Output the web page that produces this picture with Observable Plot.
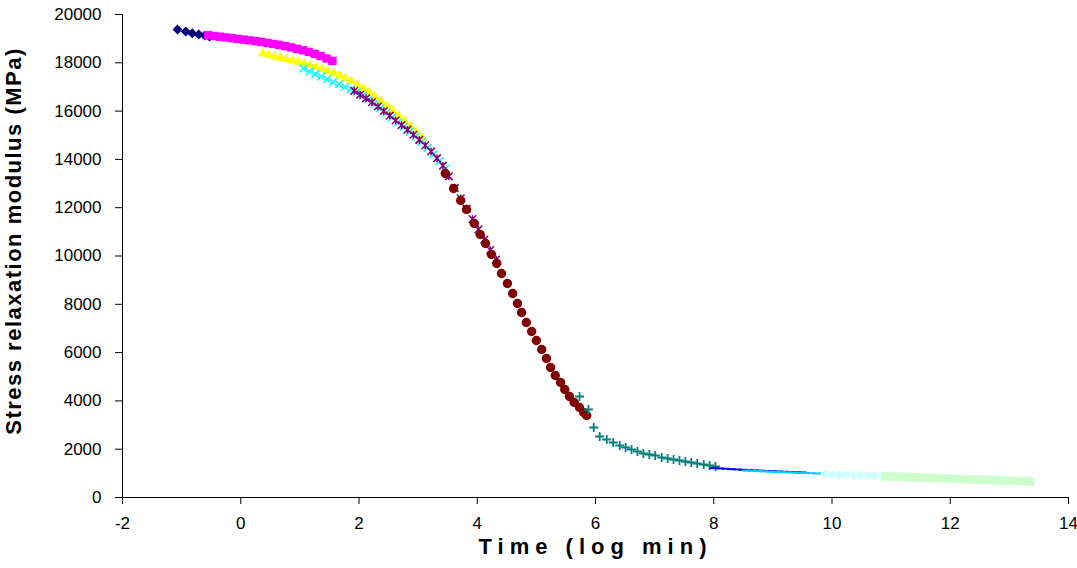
<!DOCTYPE html>
<html><head><meta charset="utf-8">
<script src="https://cdn.jsdelivr.net/npm/d3@7"></script>
<script src="https://cdn.jsdelivr.net/npm/@observablehq/plot@0.6"></script>
<style>
body{margin:0;background:#fff;}
#chart svg{font-family:"Liberation Sans",Arial,sans-serif;}
</style></head><body><div id="chart"></div>
<script>
const xTicks = [-2, 0, 2, 4, 6, 8, 10, 12, 14];
const yTicks = [0, 2000, 4000, 6000, 8000, 10000, 12000, 14000, 16000, 18000, 20000];
const xTitle = "Time (log min)";
const yTitle = "Stress relaxation modulus (MPa)";

const navyX = [-1.07, -0.93, -0.82, -0.71, -0.61, -0.53];
const navyY = [19380, 19300, 19220, 19170, 19130, 19090];

const magentaX = [-0.55,-0.45,-0.35,-0.25,-0.15,-0.05,0.05,0.15,0.25,0.35,0.45,0.55,0.65,0.75,0.85,0.95,1.05,1.15,1.25,1.35,1.45,1.55];
const magentaY = [19140,19110,19080,19050,19020,18990,18960,18930,18900,18860,18820,18780,18740,18690,18640,18580,18520,18450,18370,18280,18180,18080];

const yellowX = [0.37,0.47,0.57,0.67,0.77,0.87,0.97,1.07,1.17,1.27,1.37,1.47,1.57,1.67,1.77,1.87,1.97,2.07,2.17,2.27,2.37,2.47,2.57,2.67,2.77,2.87,2.97,3.07];
const yellowY = [18430,18370,18300,18240,18190,18140,18080,18010,17940,17860,17780,17700,17610,17510,17400,17280,17140,16990,16820,16640,16450,16260,16060,15850,15630,15400,15170,14930];

const cyanX = [1.06,1.16,1.26,1.36,1.46,1.56,1.66,1.76,1.86,1.96,2.06,2.16,2.26,2.36,2.46,2.56,2.66,2.76,2.86,2.96,3.06,3.16,3.26,3.36,3.46];
const cyanY = [17760,17640,17530,17430,17320,17200,17110,17000,16900,16780,16640,16480,16310,16120,15930,15740,15540,15350,15150,14960,14720,14480,14210,13920,13620];

const purpleX = [1.92,2.02,2.12,2.22,2.32,2.42,2.52,2.62,2.72,2.82,2.92,3.02,3.12,3.22,3.32,3.42,3.52,3.62,3.72,3.82,3.92,4.02,4.12,4.22,4.32];
const purpleY = [16840,16680,16530,16370,16190,16000,15810,15610,15420,15230,15020,14810,14580,14330,14050,13740,13300,12820,12390,11960,11530,11100,10680,10250,9850];

const maroonX = [3.46,3.60,3.72,3.82,3.95,4.05,4.14,4.24,4.33,4.41,4.51,4.60,4.68,4.75,4.83,4.92,5.00,5.09,5.17,5.24,5.32,5.41,5.48,5.56,5.64,5.73,5.80,5.85];
const maroonY = [13416,12795,12298,11925,11346,10890,10518,10062,9689,9275,8861,8447,8033,7660,7246,6874,6501,6128,5756,5383,5052,4762,4472,4182,3934,3727,3520,3395];

const tealX = [5.73,5.88,5.97,6.07,6.19,6.30,6.41,6.51,6.61,6.71,6.81,6.91,7.01,7.12,7.22,7.32,7.42,7.52,7.62,7.72,7.83,7.93,8.03];
const tealY = [4182,3644,2899,2526,2402,2277,2153,2070,1988,1905,1822,1781,1739,1656,1615,1573,1532,1491,1449,1408,1366,1325,1284];

const blueX = [8.0,8.1,8.2,8.3,8.4,8.5,8.6,8.7,8.8,8.9,9.0,9.1,9.2,9.3,9.4,9.5];
const blueY = [1220,1205,1190,1175,1160,1148,1135,1122,1110,1098,1087,1076,1066,1056,1046,1037];

const skyX = [8.55,8.65,8.75,8.85,8.95,9.05,9.15,9.25,9.35,9.45,9.55,9.65,9.75,9.85];
const skyY = [1112,1102,1092,1082,1072,1062,1052,1042,1033,1024,1015,1006,997,988];

const paleCyanX = [9.88,10.0,10.12,10.24,10.36,10.48,10.6,10.72,10.84];
const paleCyanY = [960,950,940,930,920,912,904,896,888];

const paleGreenX = [10.9,11.0,11.1,11.2,11.3,11.4,11.5,11.6,11.7,11.8,11.9,12.0,12.1,12.2,12.3,12.4,12.5,12.6,12.7,12.8,12.9,13.0,13.1,13.2,13.3,13.35];
const paleGreenY = [875,866,858,849,841,832,823,815,806,798,789,780,772,763,755,746,738,729,720,712,703,695,686,677,669,665];

// custom marker shapes (Excel-like)
const rad = s => Math.sqrt(s / Math.PI);
const symDiamond = {draw(c, s){const r = rad(s); c.moveTo(0,-r); c.lineTo(r,0); c.lineTo(0,r); c.lineTo(-r,0); c.closePath();}};
const symSquare = {draw(c, s){const r = rad(s); c.rect(-r,-r,2*r,2*r);}};
const symTriangle = {draw(c, s){const r = rad(s); c.moveTo(0,-r); c.lineTo(r,r*0.8); c.lineTo(-r,r*0.8); c.closePath();}};
const symX = {draw(c, s){const r = rad(s); c.moveTo(-r,-r); c.lineTo(r,r); c.moveTo(-r,r); c.lineTo(r,-r);}};
const symStar = {draw(c, s){const r = rad(s); c.moveTo(-r,-r); c.lineTo(r,r); c.moveTo(-r,r); c.lineTo(r,-r); c.moveTo(0,-r); c.lineTo(0,r);}};
const symPlus = {draw(c, s){const r = rad(s); c.moveTo(-r,0); c.lineTo(r,0); c.moveTo(0,-r); c.lineTo(0,r);}};
const symDash = {draw(c, s){const r = rad(s); c.moveTo(-r,0); c.lineTo(r,0);}};

const zip = (xs, ys) => xs.map((x, i) => ({x, y: ys[i]}));

const series = [
  {data: zip(navyX, navyY), symbol: symDiamond, r: 5, fill: "#000080"},
  {data: zip(magentaX, magentaY), symbol: symSquare, r: 4.2, fill: "#FF00FF"},
  {data: zip(yellowX, yellowY), symbol: symTriangle, r: 4.8, fill: "#FFFF00"},
  {data: zip(cyanX, cyanY), symbol: symX, r: 3.8, stroke: "#00FFFF"},
  {data: zip(purpleX, purpleY), symbol: symStar, r: 3.8, stroke: "#800080"},
  {data: zip(maroonX, maroonY), symbol: "circle", r: 4.7, fill: "#800000"},
  {data: zip(tealX, tealY), symbol: symPlus, r: 4.5, stroke: "#008080", sw: 1.8},
  {data: zip(blueX, blueY), symbol: symDash, r: 4, stroke: "#0000FF", sw: 2},
  {data: zip(skyX, skyY), symbol: symDash, r: 4, stroke: "#00CCFF", sw: 2},
  {data: zip(paleCyanX, paleCyanY), symbol: symDiamond, r: 5, fill: "#CCFFFF"},
  {data: zip(paleGreenX, paleGreenY), symbol: symSquare, r: 4.2, fill: "#CCFFCC"}
];

const dotMarks = series.map(s => Plot.dot(s.data, {
  x: "x", y: "y", symbol: s.symbol, r: s.r,
  fill: s.fill ?? "none", stroke: s.stroke ?? "none", strokeWidth: s.sw ?? 1.5
}));

const chart = Plot.plot({
  width: 1077, height: 568,
  marginLeft: 122, marginRight: 9, marginTop: 14, marginBottom: 71,
  style: {fontFamily: "Liberation Sans, Arial, sans-serif", fontSize: "17px", background: "#fff", color: "#000"},
  x: {domain: [-2, 14]},
  y: {domain: [0, 20000]},
  marks: [
    Plot.axisX({ticks: xTicks, tickFormat: d => String(d), tickSize: 7, tickPadding: 12, label: null, fontSize: 17}),
    Plot.axisY({ticks: yTicks, tickFormat: d => String(d), tickSize: 7, tickPadding: 14, label: null, fontSize: 17}),
    Plot.ruleX([-2], {stroke: "#000"}),
    Plot.ruleY([0], {stroke: "#000"}),
    ...dotMarks,
    Plot.text([xTitle], {text: d => d, frameAnchor: "bottom", dy: 56, fontWeight: "bold", fontSize: 22}),
    Plot.text([yTitle], {text: d => d, frameAnchor: "left", textAnchor: "middle", dx: -109, dy: -15, rotate: -90, fontWeight: "bold", fontSize: 22})
  ]
});
document.getElementById("chart").appendChild(chart);
d3.select(chart).selectAll("text").filter(function(){ return this.textContent === xTitle; }).attr("letter-spacing", "6px");
d3.select(chart).selectAll("text").filter(function(){ return this.textContent === yTitle; }).attr("letter-spacing", "1.5px");
</script></body></html>
